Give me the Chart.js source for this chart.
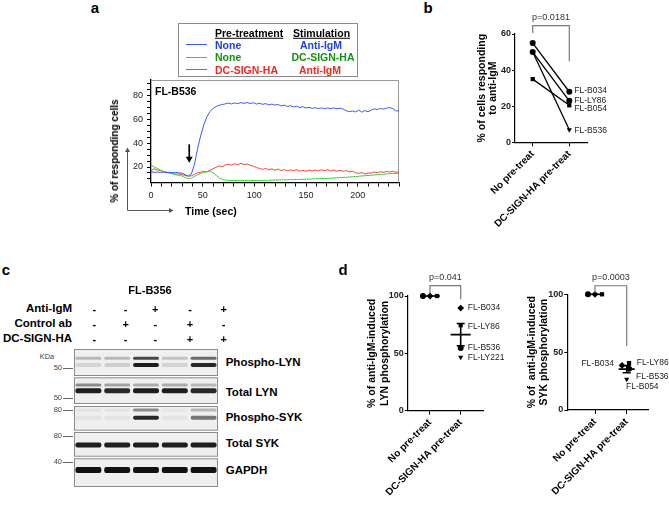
<!DOCTYPE html>
<html>
<head>
<meta charset="utf-8">
<script src="https://cdn.jsdelivr.net/npm/chart.js@4/dist/chart.umd.min.js"></script>
<style>
html, body { margin: 0; padding: 0; background: #fff; }
#fig { position: relative; width: 669px; height: 506px; overflow: hidden; font-family: "Liberation Sans", Arial, sans-serif; color: #000; }
canvas { position: absolute; }
.t { position: absolute; white-space: nowrap; line-height: 1; }
</style>
</head>
<body>
<div id="fig">
  <canvas id="chA" width="410" height="150" style="left:0;top:70px"></canvas>
  <canvas id="chB" width="229" height="240" style="left:440px;top:0"></canvas>
  <canvas id="chC" width="144" height="138" style="left:74px;top:349px"></canvas>
  <canvas id="chD1" width="165" height="256" style="left:340px;top:250px"></canvas>
  <canvas id="chD2" width="164" height="256" style="left:505px;top:250px"></canvas>
</div>
<script>
// ---------- panel a : calcium flux, % of responding cells ----------
var timeSec = [0, 3, 6, 9, 12, 15, 18, 21, 24, 27, 30, 33, 36, 39, 42, 45, 48, 51, 54, 57,
  60, 63, 66, 69, 72, 75, 78, 81, 84, 87, 90, 93, 96, 99, 102, 105, 108, 111, 114, 117,
  120, 123, 126, 129, 132, 135, 138, 141, 144, 147, 150, 153, 156, 159, 162, 165, 168, 171, 174, 177,
  180, 183, 186, 189, 192, 195, 198, 201, 204, 207, 210, 213, 216, 219, 222, 225, 228, 231, 234, 237, 240];
// no pre-treatment, anti-IgM
var noneAntiIgM = [16.0, 15.5, 15.8, 15.4, 15.7, 15.3, 15.6, 15.2, 15.5, 15.1, 14.8, 13.6, 12.4, 14.0, 22, 35, 46, 55, 62, 66.5,
  69, 70.8, 71.8, 72.4, 73.0, 73.6, 72.9, 73.8, 73.2, 74.0, 73.4, 74.1, 73.3, 73.9, 72.8, 73.5, 72.6, 73.2, 72.1, 72.8,
  71.9, 72.4, 71.3, 71.9, 70.8, 71.5, 70.4, 71.0, 69.8, 70.6, 69.5, 70.1, 69.2, 69.8, 69.0, 69.6, 68.9, 69.5, 69.0, 69.6,
  68.8, 69.4, 68.6, 67.2, 66.4, 67.0, 66.2, 67.8, 66.0, 67.4, 66.3, 67.6, 68.8, 68.2, 69.1, 68.5, 69.4, 69.8, 69.0, 67.0, 67.2];
// no pre-treatment, DC-SIGN-HA
var noneDcSign = [21.5, 20.2, 18.8, 17.5, 16.4, 15.6, 14.8, 14.2, 13.5, 13.0, 12.4, 11.2, 10.2, 10.6, 12.0, 13.4, 14.6, 15.4, 16.0, 16.6,
  15.2, 13.0, 11.0, 9.6, 9.0, 8.8, 8.7, 8.6, 8.7, 8.6, 8.6, 8.5, 8.6, 8.6, 8.7, 8.7, 8.8, 8.8, 8.9, 9.0,
  9.0, 9.1, 9.2, 9.2, 9.3, 9.4, 9.4, 9.5, 9.6, 9.7, 9.8, 9.9, 10.0, 10.1, 10.2, 10.3, 10.4, 10.5, 10.6, 10.8,
  10.9, 11.1, 11.3, 11.4, 11.6, 11.8, 12.0, 12.2, 12.5, 12.7, 12.9, 13.1, 13.3, 13.6, 13.8, 14.0, 14.2, 14.4, 14.5, 14.6, 14.7];
// DC-SIGN-HA pre-treatment, anti-IgM
var dcSignAntiIgM = [17.0, 18.5, 17.6, 17.0, 16.2, 15.8, 15.0, 14.6, 14.0, 14.3, 13.5, 13.0, 12.2, 12.6, 13.8, 15.0, 15.6, 16.4, 16.0, 17.2,
  18.4, 19.8, 21.0, 20.2, 21.6, 22.4, 21.5, 22.8, 21.9, 23.2, 22.0, 22.6, 21.4, 20.8, 19.6, 18.8, 18.0, 18.9, 17.6, 18.4,
  17.2, 18.3, 17.0, 17.8, 16.8, 17.6, 16.9, 17.7, 16.5, 17.2, 16.4, 17.4, 16.6, 17.5, 16.8, 17.6, 16.9, 17.8, 16.7, 17.4,
  16.5, 17.3, 16.4, 17.0, 15.9, 16.5, 15.2, 14.6, 15.4, 14.2, 15.0, 14.8, 15.9, 15.2, 16.1, 15.5, 16.3, 15.8, 16.4, 15.6, 15.9];
var aYTicks = [10, 15, 20, 25, 30, 35, 40, 45, 50, 55, 60, 65, 70, 75, 80, 85, 90];
var aYLabels = [20, 40, 60, 80];
var aXLabels = [0, 50, 100, 150, 200];
var stimTime = 37;

// ---------- panel b ----------
var groupNames = ['No pre-treat', 'DC-SIGN-HA pre-treat'];
var bPatients = ['FL-B034', 'FL-LY86', 'FL-B054', 'FL-B536'];
var bNoPre = [55, 50, 35, 50];
var bDcPre = [28, 23, 20.5, 7];
var bYTicks = [0, 20, 40, 60];

// ---------- panel c : western blot ----------
var lanes = ['1', '2', '3', '4', '5'];
var antiIgMRow = ['-', '-', '+', '-', '+'];
var controlAbRow = ['-', '+', '-', '+', '-'];
var dcSignRow = ['-', '-', '-', '+', '+'];
var blotRows = ['Phospho-LYN', 'Total LYN', 'Phospho-SYK', 'Total SYK', 'GAPDH'];
var stripTop = [0, 28.3, 57, 83, 109.3];        // migration (arbitrary units)
var stripBottom = [27, 55, 81.7, 107.7, 138];
var bandMigration = [9.3, 16, 36, 41.7, 61, 68.7, 96, 121];
var bandIntensity = [
  [0.25, 0.25, 0.75, 0.2, 0.6],    // phospho-LYN upper
  [0.12, 0.15, 0.95, 0.12, 0.9],   // phospho-LYN lower
  [0.45, 0.35, 0.3, 0.3, 0.25],    // total LYN upper
  [0.95, 0.9, 0.95, 0.95, 0.9],    // total LYN
  [0.05, 0.05, 0.45, 0.04, 0.25],  // phospho-SYK upper
  [0.05, 0.05, 0.9, 0.05, 0.55],   // phospho-SYK lower
  [0.95, 0.95, 0.95, 0.95, 0.95],  // total SYK
  [1, 1, 1, 1, 1]                  // GAPDH
];
var markerKDa = ['50', '50', '80', '80', '40'];

// ---------- panel d ----------
var lynPatients = ['FL-B034', 'FL-LY86', 'FL-B536', 'FL-LY221'];
var lynNoPre = [100, 100, 100, 100];
var lynDcPre = [89.5, 74.5, 54.7, 46.5];
var sykPatients = ['FL-B034', 'FL-LY86', 'FL-B536', 'FL-B054'];
var sykNoPre = [100, 100, 100, 100];
var sykDcPre = [38.5, 40.5, 35.7, 26.6];
var dYTicks = [0, 50, 100];

var FONT = '"Liberation Sans", Arial, sans-serif';
Chart.defaults.font.family = FONT;
Chart.defaults.animation = false;
var fig = document.getElementById('fig');

function put(text, x, y, css, anchor, rot) {
  var d = document.createElement('div');
  d.className = 't';
  d.textContent = text;
  d.style.cssText += css;
  d.style.left = x + 'px';
  d.style.top = y + 'px';
  var tx = anchor === 'c' ? '-50%' : anchor === 'r' ? '-100%' : '0';
  d.style.transform = 'translate(' + tx + ',-50%)' + (rot ? ' rotate(' + rot + 'deg)' : '');
  fig.appendChild(d);
  return d;
}
function box(x, y, w, h, css) {
  var d = document.createElement('div');
  d.style.cssText = 'position:absolute;left:' + x + 'px;top:' + y + 'px;width:' + w + 'px;height:' + h + 'px;' + css;
  fig.appendChild(d);
}

// panel letters
var L = 'font-weight:bold;font-size:15px;';
put('a', 95, 7, L, 'c');
put('b', 428, 7, L, 'c');
put('c', 6, 269, L, 'c');
put('d', 343, 269, L, 'c');

// ---------- panel a ----------
var blue = '#3b5bf5', green = '#3ccf3c', red = '#f0483c';
box(178, 23, 180, 54, 'border:1px solid #8a8a8a;box-sizing:border-box;');
var LG = 'font-weight:bold;font-size:10.5px;';
put('Pre-treatment', 215, 32.5, LG + 'text-decoration:underline;', 'l');
put('Stimulation', 321.5, 32.5, LG + 'text-decoration:underline;', 'c');
box(186, 44, 21, 0, 'border-top:1.3px solid ' + blue);
box(186, 56.5, 21, 0, 'border-top:1.3px solid ' + green);
box(186, 69, 21, 0, 'border-top:1.3px solid ' + red);
put('None', 215, 44.5, LG + 'color:#1c3df5', 'l');
put('Anti-IgM', 321, 44.5, LG + 'color:#1c3df5', 'c');
put('None', 215, 57, LG + 'color:#189018', 'l');
put('DC-SIGN-HA', 323, 57, LG + 'color:#189018', 'c');
put('DC-SIGN-HA', 215, 69.5, LG + 'color:#f0281e', 'l');
put('Anti-IgM', 320, 69.5, LG + 'color:#f0281e', 'c');
put('FL-B536', 155, 90.5, 'font-weight:bold;font-size:10.5px;', 'l');
put('% of responding cells', 115, 151, 'font-weight:bold;font-size:10px;', 'c', -90);
put('Time (sec)', 185, 211, 'font-weight:bold;font-size:10.5px;', 'l');

function pts(xs, ys) { return xs.map(function (x, i) { return { x: x, y: ys[i] }; }); }

var panelA = {
  id: 'panelA',
  beforeDatasetsDraw: function (chart) {
    var c = chart.ctx, a = chart.chartArea;
    c.save();
    c.strokeStyle = '#9a9a9a'; c.lineWidth = 1;
    c.beginPath();
    c.moveTo(a.left, a.top + 0.5); c.lineTo(a.right - 0.5, a.top + 0.5); c.lineTo(a.right - 0.5, a.bottom);
    c.stroke();
    c.restore();
  },
  afterDraw: function (chart) {
    var c = chart.ctx, xs = chart.scales.x, ys = chart.scales.y;
    c.save();
    // stimulation arrow
    var ax = xs.getPixelForValue(stimTime), y0 = ys.getPixelForValue(39), y1 = ys.getPixelForValue(23.5);
    c.strokeStyle = '#000'; c.fillStyle = '#000'; c.lineWidth = 1.7;
    c.beginPath(); c.moveTo(ax, y0); c.lineTo(ax, y1 - 5); c.stroke();
    c.beginPath(); c.moveTo(ax - 3.5, y1 - 6); c.lineTo(ax + 3.5, y1 - 6); c.lineTo(ax, y1); c.closePath(); c.fill();
    // axis direction arrows
    c.strokeStyle = '#555'; c.fillStyle = '#555'; c.lineWidth = 1;
    c.beginPath(); c.moveTo(127.5, 140.5); c.lineTo(127.5, 81); c.moveTo(127.5, 140.5); c.lineTo(170, 140.5); c.stroke();
    c.beginPath(); c.moveTo(125, 82); c.lineTo(130, 82); c.lineTo(127.5, 77.5); c.closePath(); c.fill();
    c.beginPath(); c.moveTo(169, 138); c.lineTo(169, 143); c.lineTo(173.5, 140.5); c.closePath(); c.fill();
    c.restore();
  }
};

new Chart(document.getElementById('chA'), {
  type: 'line',
  data: {
    datasets: [
      { label: 'None / Anti-IgM', data: pts(timeSec, noneAntiIgM), borderColor: blue, borderWidth: 1, pointRadius: 0, tension: 0 },
      { label: 'None / DC-SIGN-HA', data: pts(timeSec, noneDcSign), borderColor: green, borderWidth: 1, pointRadius: 0, tension: 0 },
      { label: 'DC-SIGN-HA / Anti-IgM', data: pts(timeSec, dcSignAntiIgM), borderColor: red, borderWidth: 1, pointRadius: 0, tension: 0 }
    ]
  },
  options: {
    responsive: false,
    layout: { padding: { left: 100, right: 11, top: 10, bottom: 0 } },
    plugins: { legend: { display: false }, tooltip: { enabled: false } },
    scales: {
      x: {
        type: 'linear', min: 0, max: 240,
        afterFit: function (s) { s.height = 37.5; },
        ticks: { stepSize: 10, autoSkip: false, maxRotation: 0, padding: 4, color: '#222', font: { size: 9 },
          callback: function (v) { return aXLabels.indexOf(v) >= 0 ? String(v) : ''; } },
        grid: { drawOnChartArea: false, tickLength: 4, tickColor: '#000' },
        border: { color: '#000', width: 1.3 }
      },
      y: {
        min: 7, max: 93,
        afterBuildTicks: function (s) { s.ticks = aYTicks.map(function (v) { return { value: v }; }); },
        afterFit: function (s) { s.width = 51; },
        ticks: { autoSkip: false, padding: 4, color: '#222', font: { size: 9 },
          callback: function (v) { return aYLabels.indexOf(v) >= 0 ? String(v) : ''; } },
        grid: { drawOnChartArea: false, tickLength: 4, tickColor: '#000' },
        border: { color: '#000', width: 1.3 }
      }
    }
  },
  plugins: [panelA]
});

// ---------- shared for b and d ----------
function swarm(values, pxPerY, pxPerX) {
  var step = 3.5, dmin = 5.5, placed = [];
  values.forEach(function (v, i) {
    var cands = [0, step, -step, 2 * step, -2 * step, 3 * step, -3 * step];
    for (var k = 0; k < cands.length; k++) {
      var ok = placed.every(function (p) {
        var dx = p.x - cands[k], dy = (p.v - v) * pxPerY;
        return Math.sqrt(dx * dx + dy * dy) >= dmin;
      });
      if (ok) { placed.push({ i: i, v: v, x: cands[k] }); break; }
    }
  });
  // centre each group of touching points
  var seen = [];
  placed.forEach(function (p) {
    if (seen.indexOf(p.i) >= 0) return;
    var grp = [p], j = 0;
    while (j < grp.length) {
      placed.forEach(function (q) {
        if (grp.indexOf(q) < 0 && Math.abs(q.v - grp[j].v) * pxPerY < dmin) grp.push(q);
      });
      j++;
    }
    var m = grp.reduce(function (s, q) { return s + q.x; }, 0) / grp.length;
    grp.forEach(function (q) { q.x -= m; seen.push(q.i); });
  });
  var out = [];
  placed.forEach(function (p) { out[p.i] = p.x / pxPerX; });
  return out;
}

var extras = {
  id: 'extras',
  afterDatasetsDraw: function (chart, args, o) {
    var c = chart.ctx, xs = chart.scales.x, ys = chart.scales.y;
    c.save();
    if (o.meanSem) {
      [o.meanSem.g0, o.meanSem.g1].forEach(function (vals, g) {
        var n = vals.length;
        var m = vals.reduce(function (a, b) { return a + b; }, 0) / n;
        var sd = Math.sqrt(vals.reduce(function (a, v) { return a + (v - m) * (v - m); }, 0) / (n - 1));
        var sem = sd / Math.sqrt(n);
        var cx = xs.getPixelForValue(g), ym = ys.getPixelForValue(m);
        var yh = ys.getPixelForValue(m + sem), yl = ys.getPixelForValue(m - sem);
        c.strokeStyle = '#000'; c.lineWidth = 1.6;
        c.beginPath();
        c.moveTo(cx - o.meanSem.half, ym); c.lineTo(cx + o.meanSem.half, ym);
        if (sem > 0) {
          c.moveTo(cx, yh); c.lineTo(cx, yl);
          c.moveTo(cx - 4, yh); c.lineTo(cx + 4, yh);
          c.moveTo(cx - 4, yl); c.lineTo(cx + 4, yl);
        }
        c.stroke();
      });
    }
    if (o.bracket) {
      var b = o.bracket, x0 = xs.getPixelForValue(0), x1 = xs.getPixelForValue(1), yt = ys.getPixelForValue(b.top);
      c.strokeStyle = '#7a7a7a'; c.lineWidth = 1.2;
      c.beginPath();
      c.moveTo(x0, ys.getPixelForValue(b.left)); c.lineTo(x0, yt); c.lineTo(x1, yt); c.lineTo(x1, ys.getPixelForValue(b.right));
      c.stroke();
      c.fillStyle = '#333'; c.font = '9px ' + FONT; c.textAlign = 'center'; c.textBaseline = 'middle';
      c.fillText(b.text, (x0 + x1) / 2, yt - 8);
    }
    if (o.tags) {
      c.fillStyle = '#222'; c.font = '8.5px ' + FONT; c.textBaseline = 'middle';
      chart.data.datasets.forEach(function (d, i) {
        var t = o.tags[i];
        c.textAlign = t.align || 'left';
        c.fillText(d.label, xs.getPixelForValue(1) + t.dx, ys.getPixelForValue(d.data[1].y) + t.dy);
      });
    }
    c.restore();
  }
};

function pairScales(o) {
  return {
    x: {
      type: 'linear', min: o.xmin, max: o.xmax,
      afterBuildTicks: function (s) { s.ticks = [{ value: 0 }, { value: 1 }]; },
      afterFit: function (s) { s.height = o.xh; },
      ticks: { autoSkip: false, minRotation: 45, maxRotation: 45, padding: 2, color: '#000',
        font: { size: 10, weight: 'bold' }, callback: function (v) { return groupNames[v]; } },
      grid: { drawOnChartArea: false, tickLength: 4, tickColor: '#000' },
      border: { color: '#000', width: 1.2 }
    },
    y: {
      min: 0, max: o.ymax,
      afterBuildTicks: function (s) { s.ticks = o.yt.map(function (v) { return { value: v }; }); },
      afterFit: function (s) { s.width = o.yw; },
      ticks: { autoSkip: false, padding: 1, color: '#222', font: { size: 9, weight: 'bold' } },
      grid: { drawOnChartArea: false, tickLength: 3, tickColor: '#000' },
      border: { color: '#000', width: 1.2 },
      title: { display: true, text: o.title, color: '#000', padding: { top: 4, bottom: 0 },
        font: { size: 10.5, weight: 'bold', lineHeight: o.lh } }
    }
  };
}

// ---------- panel b ----------
var bStyles = ['circle', 'circle', 'rect', 'triangle'];
new Chart(document.getElementById('chB'), {
  type: 'scatter',
  data: {
    datasets: bPatients.map(function (p, i) {
      return {
        label: p, data: [{ x: 0, y: bNoPre[i] }, { x: 1, y: bDcPre[i] }],
        showLine: true, borderColor: '#000', borderWidth: 1.3, backgroundColor: '#000',
        pointStyle: bStyles[i], pointRotation: bStyles[i] === 'triangle' ? 180 : 0,
        pointRadius: 3, pointBorderWidth: 0, clip: false
      };
    })
  },
  options: {
    responsive: false,
    layout: { padding: { left: 32, right: 82, top: 34, bottom: 0 } },
    plugins: {
      legend: { display: false }, tooltip: { enabled: false },
      extras: {
        bracket: { text: 'p=0.0181', top: 64.6, left: 60.6, right: 44.9 },
        tags: [{ dx: 5, dy: -1 }, { dx: 5, dy: 0 }, { dx: 5, dy: 3 }, { dx: 5, dy: 1 }]
      }
    },
    scales: pairScales({ xmin: -0.484, xmax: 1.484, xh: 97.7, ymax: 60, yt: bYTicks, yw: 43,
      title: ['% of cells responding', 'to anti-IgM'], lh: 1.1 })
  },
  plugins: [extras]
});

// ---------- panel c ----------
put('FL-B356', 150, 290, 'font-weight:bold;font-size:11px;', 'c');
var CL = 'font-weight:bold;font-size:11.5px;';
put('Anti-IgM', 72, 309, CL, 'r');
put('Control ab', 72, 324, CL, 'r');
put('DC-SIGN-HA', 72, 339, CL, 'r');
var signX = [94.3, 125.7, 155.3, 190, 223.7];
[antiIgMRow, controlAbRow, dcSignRow].forEach(function (row, r) {
  row.forEach(function (s, i) { put(s, signX[i], 309 + r * 15, 'font-weight:bold;font-size:11px;', 'c'); });
});
var rowLabelY = [363.3, 393.3, 417.7, 444, 471];
blotRows.forEach(function (n, i) { put(n, 225.7, rowLabelY[i], CL, 'l'); });
put('KDa', 47, 357, 'font-size:7.5px;color:#444;', 'c');
var markerY = [368, 398, 410, 436, 462];
markerKDa.forEach(function (m, i) {
  put(m, 62, markerY[i], 'font-size:7.5px;color:#444;', 'r');
  box(63, markerY[i], 10, 0, 'border-top:1px solid #666');
});

var blotFrames = {
  id: 'blotFrames',
  beforeDatasetsDraw: function (chart) {
    var c = chart.ctx, a = chart.chartArea, ys = chart.scales.y;
    c.save();
    stripTop.forEach(function (t, i) {
      var y0 = ys.getPixelForValue(t), y1 = ys.getPixelForValue(stripBottom[i]);
      c.fillStyle = '#efefef';
      c.fillRect(a.left, y0, a.right - a.left, y1 - y0);
      c.strokeStyle = '#8c8c8c'; c.lineWidth = 1;
      c.strokeRect(a.left + 0.5, y0 + 0.5, a.right - a.left - 1, y1 - y0 - 1);
    });
    c.restore();
    c.save();
    c.filter = 'blur(0.6px)';
  },
  afterDatasetsDraw: function (chart) {
    chart.ctx.restore();
  }
};
var bandThickness = [3, 4, 3, 5, 3, 4, 5, 6];
new Chart(document.getElementById('chC'), {
  type: 'bar',
  data: {
    labels: lanes,
    datasets: bandMigration.map(function (m, b) {
      var h = bandThickness[b] / 2;
      return {
        data: lanes.map(function () { return [m - h, m + h]; }),
        backgroundColor: bandIntensity[b].map(function (v) { return 'rgba(18,18,18,' + v + ')'; }),
        grouped: false, barPercentage: 0.9, categoryPercentage: 1,
        borderRadius: 2, borderSkipped: false, borderWidth: 0
      };
    })
  },
  options: {
    responsive: false,
    layout: { padding: 0 },
    plugins: { legend: { display: false }, tooltip: { enabled: false } },
    scales: {
      x: { display: false },
      y: { display: false, min: 0, max: 138, reverse: true }
    }
  },
  plugins: [blotFrames]
});

// ---------- panel d ----------
var dStyles = { 'FL-B034': 'rectRot', 'FL-LY86': 'rect', 'FL-B536': 'circle', 'FL-LY221': 'triangle', 'FL-B054': 'triangle' };
function dDatasets(names, g0, g1, pxY, pxX) {
  var o0 = swarm(g0, pxY, pxX), o1 = swarm(g1, pxY, pxX);
  return names.map(function (p, i) {
    return {
      label: p, data: [{ x: o0[i], y: g0[i] }, { x: 1 + o1[i], y: g1[i] }],
      showLine: false, backgroundColor: '#000', borderColor: '#000',
      pointStyle: dStyles[p], pointRotation: dStyles[p] === 'triangle' ? 180 : 0,
      pointRadius: dStyles[p] === 'rectRot' ? 3.4 : 3, pointBorderWidth: 0, clip: false
    };
  });
}

new Chart(document.getElementById('chD1'), {
  type: 'scatter',
  data: { datasets: dDatasets(lynPatients, lynNoPre, lynDcPre, 1.147, 30.7) },
  options: {
    responsive: false,
    layout: { padding: { left: 21.4, right: 21.7, top: 46, bottom: 0 } },
    plugins: {
      legend: { display: false }, tooltip: { enabled: false },
      extras: {
        meanSem: { g0: lynNoPre, g1: lynDcPre, half: 10 },
        bracket: { text: 'p=0.041', top: 109, left: 102.4, right: 97.2 },
        tags: [{ dx: 7, dy: 0 }, { dx: 7, dy: 1.4 }, { dx: 7, dy: -0.7 }, { dx: 7, dy: 0 }]
      }
    },
    scales: pairScales({ xmin: -0.726, xmax: 1.736, xh: 95.3, ymax: 100, yt: dYTicks, yw: 46.3,
      title: ['% of anti-IgM-induced', 'LYN phosphorylation'], lh: 1.25 })
  },
  plugins: [extras]
});

new Chart(document.getElementById('chD2'), {
  type: 'scatter',
  data: { datasets: dDatasets(sykPatients, sykNoPre, sykDcPre, 1.157, 31.7) },
  options: {
    responsive: false,
    layout: { padding: { left: 16.4, right: 21, top: 44.3, bottom: 0 } },
    plugins: {
      legend: { display: false }, tooltip: { enabled: false },
      extras: {
        meanSem: { g0: sykNoPre, g1: sykDcPre, half: 8 },
        bracket: { text: 'p=0.0003', top: 107.4, left: 101.4, right: 55.3 },
        tags: [{ dx: -12.7, dy: -2, align: 'right' }, { dx: 10, dy: 0 }, { dx: 9.3, dy: 8 }, { dx: -0.7, dy: 7.4 }]
      }
    },
    scales: pairScales({ xmin: -0.874, xmax: 1.672, xh: 96, ymax: 100, yt: dYTicks, yw: 45.9,
      title: ['% of  anti-IgM-induced', 'SYK phosphorylation'], lh: 1.2 })
  },
  plugins: [extras]
});
</script>
</body>
</html>
